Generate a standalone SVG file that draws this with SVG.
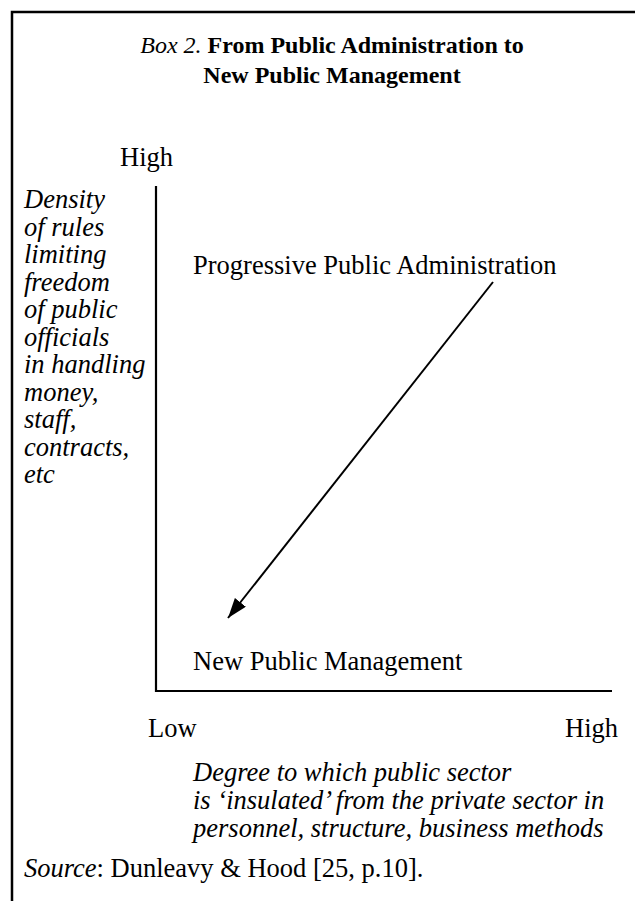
<svg xmlns="http://www.w3.org/2000/svg" width="635" height="901" viewBox="0 0 635 901">
<defs>
<style>
text{font-family:"Liberation Serif","Times New Roman",serif;font-size:26.5px;fill:#000}
.ttl{font-size:24px}
.b{font-weight:bold}
.i{font-style:italic}
.ax{stroke:#000;stroke-width:2.2;fill:none}
.frame{stroke:#000;stroke-width:2.5;fill:none}
</style>
<marker id="ah2" viewBox="0 0 20 14" refX="20" refY="7" markerWidth="20" markerHeight="14" markerUnits="userSpaceOnUse" orient="auto">
<path d="M0,0 L20,7 L0,14 z" fill="#000"/>
</marker>
</defs>
<rect width="635" height="901" fill="#fff"/>
<path class="frame" d="M12,901 V12 H635"/>
<g id="title">
<text class="ttl" x="332" y="53" text-anchor="middle"><tspan class="i">Box 2.</tspan><tspan class="b"> From Public Administration to</tspan></text>
<text class="ttl b" x="332" y="83" text-anchor="middle">New Public Management</text>
</g>
<g id="axes">
<path class="ax" d="M156,186 V691 H612"/>
</g>
<g id="y-high"><text x="120" y="166">High</text></g>
<g id="y-label">
<text class="i" x="24">
<tspan x="24" y="208">Density</tspan>
<tspan x="24" y="236">of rules</tspan>
<tspan x="24" y="263">limiting</tspan>
<tspan x="24" y="291">freedom</tspan>
<tspan x="24" y="318">of public</tspan>
<tspan x="24" y="346">officials</tspan>
<tspan x="24" y="373">in handling</tspan>
<tspan x="24" y="401">money,</tspan>
<tspan x="24" y="428">staff,</tspan>
<tspan x="24" y="456">contracts,</tspan>
<tspan x="24" y="483">etc</tspan>
</text>
</g>
<g id="ppa"><text x="193" y="274">Progressive Public Administration</text></g>
<g id="npm"><text x="193" y="670">New Public Management</text></g>
<g id="x-low"><text x="148" y="737">Low</text></g>
<g id="x-high"><text x="565" y="737">High</text></g>
<g id="x-label">
<text class="i">
<tspan x="193" y="781">Degree to which public sector</tspan>
<tspan x="193" y="809">is ‘insulated’ from the private sector in</tspan>
<tspan x="193" y="837">personnel, structure, business methods</tspan>
</text>
</g>
<g id="source"><text x="24" y="877"><tspan class="i">Source</tspan>: Dunleavy &amp; Hood [25, p.10].</text></g>
<g id="connectors">
<line x1="493" y1="282" x2="228" y2="618" stroke="#000" stroke-width="2" marker-end="url(#ah2)"/>
</g>
</svg>
